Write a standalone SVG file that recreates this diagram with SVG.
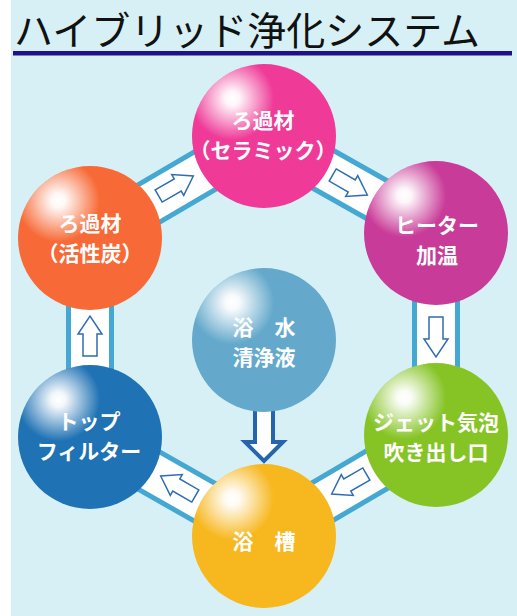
<svg xmlns="http://www.w3.org/2000/svg" width="517" height="616" viewBox="0 0 517 616">
<defs>
<radialGradient id="hl" cx="0.28" cy="0.24" r="0.5">
<stop offset="0" stop-color="#fff" stop-opacity="1"/>
<stop offset="0.1" stop-color="#fff" stop-opacity="0.95"/>
<stop offset="0.58" stop-color="#fff" stop-opacity="0"/>
</radialGradient>
<path id="arr" d="M-20,-7 L2,-7 L2,-12 L20,0 L2,12 L2,7 L-20,7 Z"/>
</defs>
<style>
.band{stroke:#44a8d2;stroke-width:48;}
.bandin{stroke:#ffffff;stroke-width:38;}
.arr{fill:#fff;stroke:#2f6cb3;stroke-width:1.5;stroke-linejoin:miter;}
.hl{fill:url(#hl);}
.lbl{font-family:"Noto Sans CJK JP","Noto Sans",sans-serif;font-weight:bold;font-size:21px;fill:#fff;text-anchor:middle;}
.title{font-family:"Noto Sans CJK JP","Noto Sans",sans-serif;font-size:39px;fill:#111;}
</style>
<rect x="0" y="0" width="517" height="616" fill="#fff"/>
<rect x="11" y="0" width="506" height="616" fill="#d6f0f5"/>
<g id="title">
<text class="title" x="14" y="45" textLength="466">ハイブリッド浄化システム</text>
<rect x="13" y="51" width="499" height="4.5" fill="#20108a"/>
</g>
<g id="connectors">
<line class="band" x1="90" y1="238" x2="264" y2="136"/>
<line class="band" x1="264" y1="136" x2="436" y2="233"/>
<line class="band" x1="436" y1="233" x2="436" y2="435"/>
<line class="band" x1="436" y1="435" x2="264" y2="536"/>
<line class="band" x1="264" y1="536" x2="90" y2="437"/>
<line class="band" x1="90" y1="437" x2="90" y2="238"/>
<line class="bandin" x1="90" y1="238" x2="264" y2="136"/>
<line class="bandin" x1="264" y1="136" x2="436" y2="233"/>
<line class="bandin" x1="436" y1="233" x2="436" y2="435"/>
<line class="bandin" x1="436" y1="435" x2="264" y2="536"/>
<line class="bandin" x1="264" y1="536" x2="90" y2="437"/>
<line class="bandin" x1="90" y1="437" x2="90" y2="238"/>
<use href="#arr" class="arr" transform="translate(176,186) rotate(-30)"/>
<use href="#arr" class="arr" transform="translate(350,185) rotate(30)"/>
<use href="#arr" class="arr" transform="translate(436,337) rotate(90)"/>
<use href="#arr" class="arr" transform="translate(349,484) rotate(150)"/>
<use href="#arr" class="arr" transform="translate(178,486) rotate(210)"/>
<use href="#arr" class="arr" transform="translate(90,336) rotate(-90)"/>
<path d="M255,400 L255,442 L245,442 L264,461 L283,442 L273,442 L273,400 Z" fill="#fff" stroke="#2565ae" stroke-width="4"/>
</g>
<g id="node-ceramic">
<circle cx="264" cy="136" r="72" fill="#ef3a97"/>
<circle cx="264" cy="136" r="72" class="hl"/>
<text class="lbl"><tspan x="263" y="127.5">ろ過材</tspan><tspan x="263" dy="30.5">（セラミック）</tspan></text>
</g>
<g id="node-heater">
<circle cx="436" cy="233" r="72" fill="#c93b98"/>
<circle cx="436" cy="233" r="72" class="hl"/>
<text class="lbl"><tspan x="437" y="232.5">ヒーター</tspan><tspan x="437" dy="30.5">加温</tspan></text>
</g>
<g id="node-jet">
<circle cx="436" cy="435" r="72" fill="#86c426"/>
<circle cx="436" cy="435" r="72" class="hl"/>
<text class="lbl"><tspan x="436" y="429.5">ジェット気泡</tspan><tspan x="436" dy="30.5">吹き出し口</tspan></text>
</g>
<g id="node-tank">
<circle cx="264" cy="536" r="72" fill="#f7b71e"/>
<circle cx="264" cy="536" r="72" class="hl"/>
<text class="lbl" x="264" y="548.5">浴　槽</text>
</g>
<g id="node-filter">
<circle cx="90" cy="437" r="72" fill="#1f72b4"/>
<circle cx="90" cy="437" r="72" class="hl"/>
<text class="lbl"><tspan x="89" y="428.5">トップ</tspan><tspan x="89" dy="30.5">フィルター</tspan></text>
</g>
<g id="node-carbon">
<circle cx="90" cy="238" r="72" fill="#f76936"/>
<circle cx="90" cy="238" r="72" class="hl"/>
<text class="lbl"><tspan x="90" y="230.5">ろ過材</tspan><tspan x="90" dy="30.5">（活性炭）</tspan></text>
</g>
<g id="node-water">
<circle cx="264" cy="340" r="72" fill="#64a9cb"/>
<circle cx="264" cy="340" r="72" class="hl"/>
<text class="lbl"><tspan x="264" y="334.5">浴　水</tspan><tspan x="264" dy="30.5">清浄液</tspan></text>
</g>
</svg>
